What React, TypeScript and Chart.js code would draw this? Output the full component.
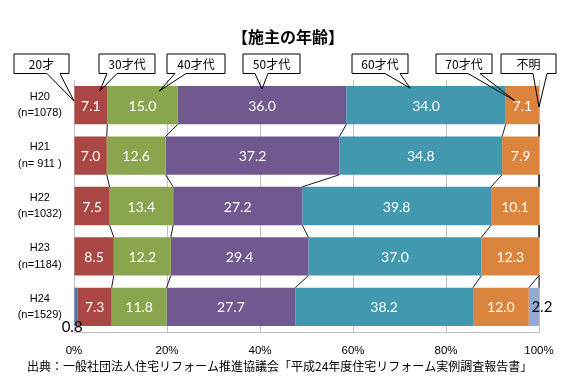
import React, { useEffect, useRef } from "react";
import { Chart, registerables } from "chart.js";
Chart.register(...registerables);

// ---- data ----
const categories = [
  ["H20", "(n=1078)"],
  ["H21", "(n= 911 )"],
  ["H22", "(n=1032)"],
  ["H23", "(n=1184)"],
  ["H24", "(n=1529)"],
];
const seriesNames = ["20才", "30才代", "40才代", "50才代", "60才代", "70才代", "不明"];
const age20 = [0, 0, 0, 0, 0.8];
const age30 = [7.1, 7.0, 7.5, 8.5, 7.3];
const age40 = [15.0, 12.6, 13.4, 12.2, 11.8];
const age50 = [36.0, 37.2, 27.2, 29.4, 27.7];
const age60 = [34.0, 34.8, 39.8, 37.0, 38.2];
const age70 = [7.1, 7.9, 10.1, 12.3, 12.0];
const unknown = [0, 0, 0, 0, 2.2];
const xTicks = [0, 20, 40, 60, 80, 100];
const titleText = "【施主の年齢】";
const sourceText = "出典：一般社団法人住宅リフォーム推進協議会「平成24年度住宅リフォーム実例調査報告書」";

// ---- styles / layout ----
const colors = ["#4572A7", "#AA4643", "#89A54E", "#71588F", "#4198AF", "#DB843D", "#93A9CF"];
// callout boxes: box extent, pointer base on box bottom, tip relative to H20 segment of the series
const callouts = [
  { l: 14, r: 69, b1: 47, b2: 60, frac: 0, dy: 15 },
  { l: 99, r: 155, b1: 107, b2: 117, frac: 0.77, dy: 5 },
  { l: 167, r: 225, b1: 175, b2: 186, frac: 0.74, dy: 5 },
  { l: 243, r: 300, b1: 255, b2: 268, frac: 0.5, dy: 3 },
  { l: 352, r: 408, b1: 385, b2: 400, frac: 0.4, dy: 2 },
  { l: 436, r: 492, b1: 468, b2: 480, frac: 0.29, dy: 15 },
  { l: 501, r: 556, b1: 533, b2: 547, frac: 1, dy: 21 },
];
const boxTop = 54;
const boxBottom = 73.5;

const raw = [age20, age30, age40, age50, age60, age70, unknown];

const overlay = {
  id: "overlay",
  afterDatasetsDraw(chart: any) {
    const ctx = chart.ctx;
    const n = chart.data.datasets.length;
    ctx.save();
    // series lines
    ctx.strokeStyle = "#000";
    ctx.lineWidth = 0.9;
    for (let d = 1; d < n; d++) {
      const meta = chart.getDatasetMeta(d);
      for (let k = 0; k < meta.data.length - 1; k++) {
        const a = meta.data[k];
        const b = meta.data[k + 1];
        ctx.beginPath();
        ctx.moveTo(a.x, a.y + a.height / 2);
        ctx.lineTo(b.x, b.y - b.height / 2);
        ctx.stroke();
      }
    }
    // data labels
    ctx.font = "14px Lato";
    ctx.textBaseline = "middle";
    ctx.textAlign = "center";
    for (let d = 0; d < n; d++) {
      const meta = chart.getDatasetMeta(d);
      meta.data.forEach((el: any, k: number) => {
        const v = raw[d][k];
        if (!v) return;
        const txt = v.toFixed(1);
        const cx = (el.x + el.base) / 2;
        if (d === 0) {
          ctx.fillStyle = "#000";
          ctx.font = "15px Lato";
          ctx.fillText(txt, cx - 4, el.y + el.height / 2 + 1);
          ctx.font = "14px Lato";
        } else if (d === n - 1) {
          ctx.fillStyle = "#000";
          ctx.font = "15px Lato";
          ctx.fillText(txt, cx + 8, el.y);
          ctx.font = "14px Lato";
        } else {
          ctx.fillStyle = "#fff";
          ctx.fillText(txt, cx, el.y + 1);
        }
      });
    }
    // callouts
    ctx.font = "12px 'Noto Sans CJK JP'";
    ctx.lineWidth = 1;
    callouts.forEach((c, d) => {
      const el = chart.getDatasetMeta(d).data[0];
      const tx = el.base + c.frac * (el.x - el.base);
      const ty = el.y - el.height / 2 + c.dy;
      ctx.fillStyle = "#fff";
      ctx.fillRect(c.l, boxTop, c.r - c.l, boxBottom - boxTop);
      ctx.strokeStyle = "#000";
      ctx.beginPath();
      ctx.moveTo(c.b1, boxBottom);
      ctx.lineTo(c.l, boxBottom);
      ctx.lineTo(c.l, boxTop);
      ctx.lineTo(c.r, boxTop);
      ctx.lineTo(c.r, boxBottom);
      ctx.lineTo(c.b2, boxBottom);
      ctx.lineTo(tx, ty);
      ctx.lineTo(c.b1, boxBottom);
      ctx.stroke();
      ctx.fillStyle = "#000";
      ctx.textAlign = "center";
      ctx.fillText(seriesNames[d], (c.l + c.r) / 2, (boxTop + boxBottom) / 2 + 1);
    });
    ctx.restore();
  },
  afterDraw(chart: any) {
    const ctx = chart.ctx;
    ctx.save();
    ctx.fillStyle = "#000";
    ctx.textBaseline = "middle";
    ctx.textAlign = "center";
    ctx.font = "bold 16px 'Noto Sans CJK JP'";
    ctx.fillText(titleText, 288, 37);
    ctx.font = "12px 'Noto Sans CJK JP'";
    ctx.textAlign = "left";
    ctx.fillText(sourceText, 27, 366);
    ctx.restore();
  },
};

export default function App() {
  const ref = useRef<HTMLCanvasElement>(null);
  useEffect(() => {
    const datasets = raw.map((arr, d) => ({
      label: seriesNames[d],
      data: arr.map((v, k) => {
        const total = raw.reduce((s, a) => s + a[k], 0);
        return (v / total) * 100;
      }),
      backgroundColor: colors[d],
      borderWidth: 0,
      barPercentage: 0.76,
      categoryPercentage: 1,
    }));
    const chart = new Chart(ref.current!, {
      type: "bar",
      data: { labels: categories, datasets },
      options: {
        indexAxis: "y",
        animation: false,
        responsive: false,
        maintainAspectRatio: false,
        layout: { padding: { top: 80, right: 40, bottom: 20, left: 0 } },
        plugins: { legend: { display: false }, tooltip: { enabled: false }, title: { display: false } },
        scales: {
          x: {
            stacked: true,
            min: 0,
            max: 100,
            afterBuildTicks: (s: any) => {
              s.ticks = xTicks.map((v) => ({ value: v }));
            },
            afterFit: (s: any) => {
              s.height = 26;
            },
            grid: { color: "#BFBFBF", drawTicks: false, lineWidth: 1 },
            border: { display: true, color: "#BFBFBF" },
            ticks: {
              padding: 12,
              color: "#000",
              font: { family: "Liberation Sans", size: 11.5 },
              callback: (v: any) => v + "%",
            },
          },
          y: {
            stacked: true,
            afterFit: (s: any) => {
              s.width = 74;
            },
            grid: { display: false, drawTicks: false },
            border: { display: false },
            ticks: {
              crossAlign: "center",
              padding: 12,
              color: "#000",
              font: { family: "Liberation Sans", size: 11, lineHeight: 1.5 },
            },
          },
        },
      },
      plugins: [overlay],
    });
    return () => chart.destroy();
  }, []);
  return (
    <div style={{ position: "fixed", left: 0, top: 0, width: 579, height: 378, background: "#fff" }}>
      <canvas ref={ref} width={579} height={378} />
    </div>
  );
}
